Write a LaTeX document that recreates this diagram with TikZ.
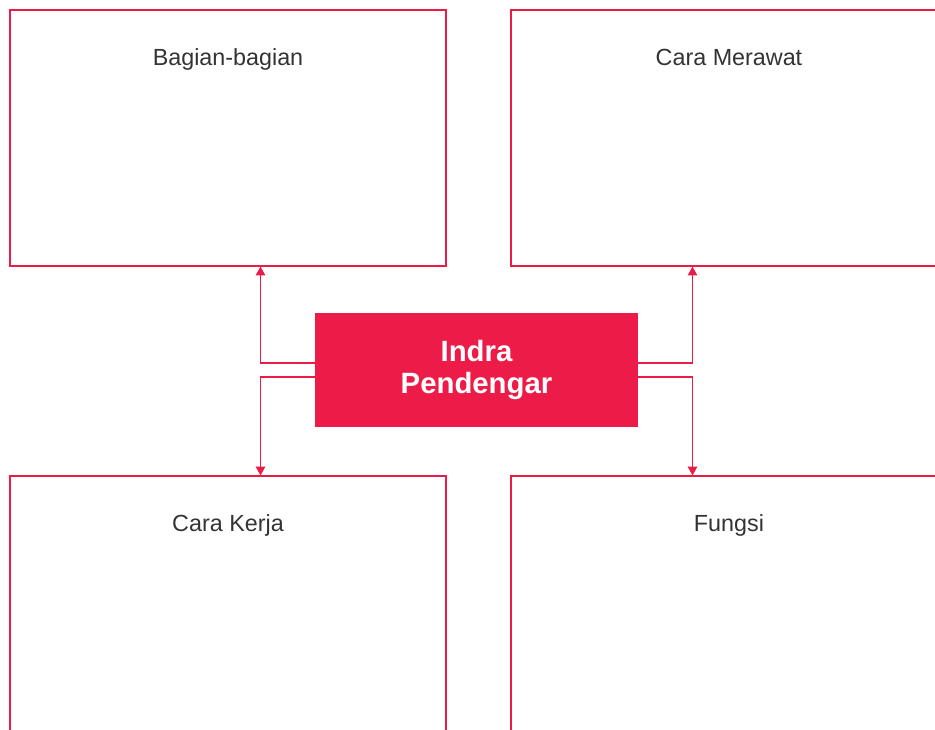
\documentclass[tikz,border=0pt]{standalone}
\usepackage{fontspec}
\setmainfont{Liberation Sans}
\usetikzlibrary{arrows.meta, positioning, calc}
\definecolor{crimson}{RGB}{237,27,71}
\definecolor{inkgray}{RGB}{51,51,51}

\begin{document}
\begin{tikzpicture}[x=0.75pt, y=-0.75pt,
      panel/.style={rectangle, draw=crimson, line width=0.9pt,
        minimum width=327pt, minimum height=192pt, inner sep=0pt},
      title/.style={anchor=base, inner sep=0pt, text=inkgray,
        font=\fontsize{17.5}{21}\selectfont},
      hubbox/.style={rectangle, fill=crimson, minimum width=242.25pt,
        minimum height=85.5pt, align=center, text=white,
        font=\fontsize{22}{24}\selectfont\bfseries},
      link/.style={draw=crimson, line width=0.9pt,
        -{Triangle[width=7pt, length=6.5pt]}}
    ]
      \useasboundingbox (0,0) rectangle (935,729);
      \clip (0,0) rectangle (935,729);

      \node[panel] (parts) at (228,138) {};
      \node[panel] (care) at (729,138) {};
      \node[panel] (work) at (228,604) {};
      \node[panel] (func) at (729,604) {};

      \node[title] (partsT) at ([yshift=-42pt]parts.north) {Bagian-bagian};
      \node[title] (careT) at ([yshift=-42pt]care.north) {Cara Merawat};
      \node[title] (workT) at ([yshift=-42pt]work.north) {Cara Kerja};
      \node[title] (funcT) at ([yshift=-42pt]func.north) {Fungsi};

      \node[hubbox] (hub) at (476.5,370) {Indra\\Pendengar};

      \coordinate (lx) at ($(hub.center)+(-216,0)$);
      \coordinate (rx) at ($(hub.center)+(216,0)$);

      \draw[link] ([yshift=5.25pt]hub.west) -| (lx |- parts.south);
      \draw[link] ([yshift=-5.25pt]hub.west) -| (lx |- work.north);
      \draw[link] ([yshift=5.25pt]hub.east) -| (rx |- care.south);
      \draw[link] ([yshift=-5.25pt]hub.east) -| (rx |- func.north);
    \end{tikzpicture}
\end{document}
